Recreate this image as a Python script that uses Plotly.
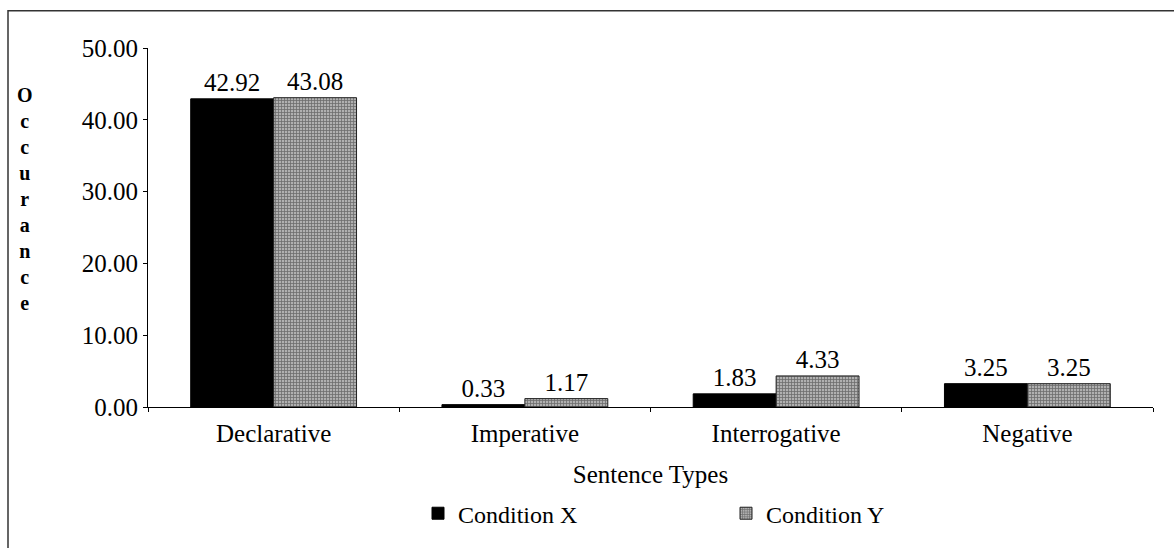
import plotly.graph_objects as go

categories = ["Declarative", "Imperative", "Interrogative", "Negative"]
condition_x = [42.92, 0.33, 1.83, 3.25]
condition_y = [43.08, 1.17, 4.33, 3.25]
series_names = ["Condition X", "Condition Y"]
y_ticks = [0, 10, 20, 30, 40, 50]
y_title = "Occurance"
x_title = "Sentence Types"

FONT = "Liberation Serif, Times New Roman, serif"

fig = go.Figure()
fig.add_trace(go.Bar(
    x=categories, y=condition_x, name=series_names[0],
    marker=dict(color="#000000", line=dict(color="#000000", width=1)),
    texttemplate="%{y:.2f}", textposition="outside",
    textfont=dict(family=FONT, size=25, color="#000"), cliponaxis=False,
))
fig.add_trace(go.Bar(
    x=categories, y=condition_y, name=series_names[1],
    marker=dict(color="#7a7a7a", line=dict(color="#222", width=1),
                pattern=dict(shape="+", size=3, solidity=0.45,
                             fgcolor="#2a2a2a", bgcolor="#b0b0b0")),
    texttemplate="%{y:.2f}", textposition="outside",
    textfont=dict(family=FONT, size=25, color="#000"), cliponaxis=False,
))

# Stacked vertical y-axis title
fig.add_annotation(
    text="<b>" + "<br>".join(list(y_title)) + "</b>", xref="paper", yref="paper",
    x=(25 - 148) / 1005, y=(415 - 202) / 367, xanchor="center", yanchor="middle",
    showarrow=False, align="center",
    font=dict(family=FONT, size=20, color="#000"),
)

# Outer frame
fig.add_shape(type="rect", xref="paper", yref="paper",
              x0=(8 - 148) / 1005, x1=(1185 - 148) / 1005,
              y0=(415 - 560) / 367, y1=(415 - 10) / 367,
              line=dict(color="#333", width=1.5), layer="below")

fig.update_layout(
    width=1174, height=548,
    margin=dict(l=148, r=21, t=48, b=133),
    paper_bgcolor="white", plot_bgcolor="white",
    barmode="group", bargap=0.34, bargroupgap=0,
    font=dict(family=FONT, size=24, color="#000"),
    showlegend=True,
    legend=dict(orientation="h", x=(418 - 148) / 1005, xanchor="left",
                y=(415 - 524) / 367, yanchor="middle",
                entrywidth=263, entrywidthmode="pixels",
                font=dict(family=FONT, size=24, color="#000"),
                bgcolor="rgba(0,0,0,0)"),
    xaxis=dict(
        showline=True, linecolor="#000", linewidth=1,
        ticks="outside", tickson="boundaries", ticklen=4, tickcolor="#000",
        ticklabelstandoff=4,
        tickfont=dict(family=FONT, size=25, color="#000"),
        title=dict(text=x_title, font=dict(family=FONT, size=25, color="#000"), standoff=19),
        showgrid=False, zeroline=False,
    ),
    yaxis=dict(
        range=[0, 50], tickvals=y_ticks, tickformat=".2f",
        showline=True, linecolor="#000", linewidth=1,
        ticks="outside", ticklen=4, tickcolor="#000",
        tickfont=dict(family=FONT, size=25, color="#000"),
        showgrid=False, zeroline=False,
    ),
)

fig.write_html("out.html")
